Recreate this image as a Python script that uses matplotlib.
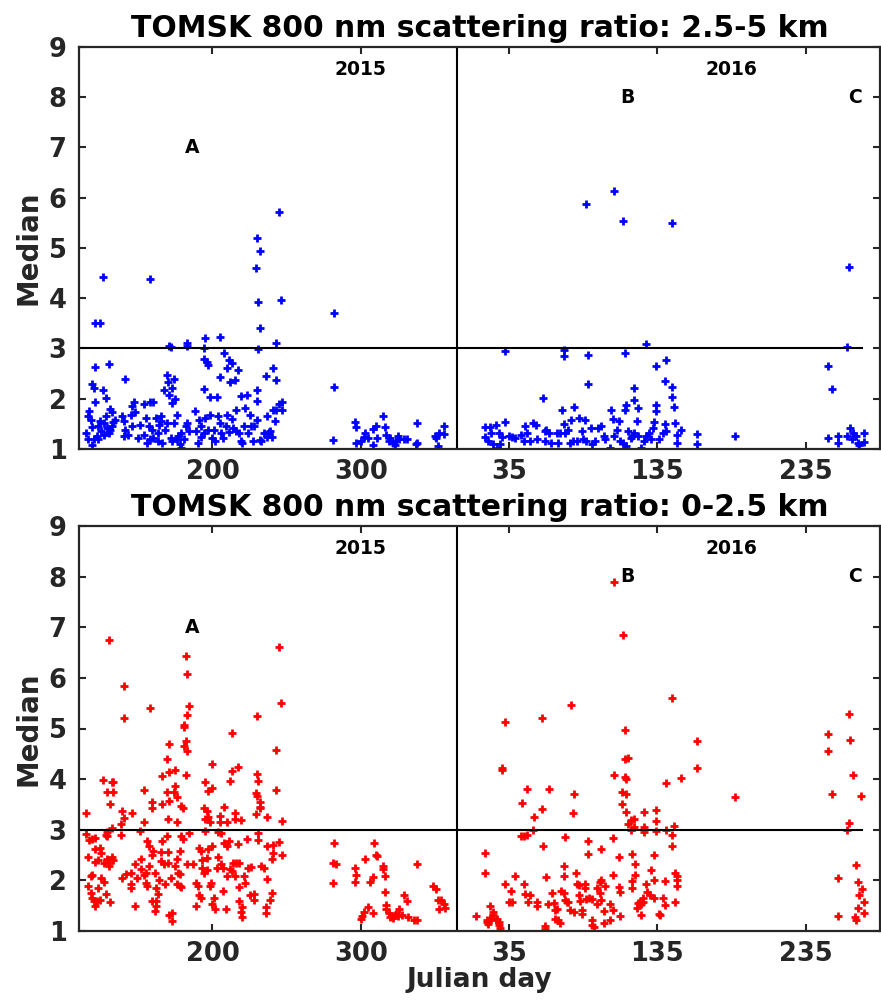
import matplotlib
matplotlib.use('Agg')
import matplotlib.pyplot as plt
import numpy as np

plt.rcParams['font.family'] = ['DejaVu Sans']
plt.rcParams['font.weight'] = 'bold'

# ---- 2.5-5 km, 2015 (day of year, median) ----
top15_day = [126, 121, 124, 158, 230, 232, 229, 245, 231, 246, 232, 243, 231, 282, 282, 171, 172, 183, 183,
             195, 194, 205, 208, 194, 196, 197, 211, 213, 210, 217, 205, 212, 215, 241, 236, 243, 121, 130,
             141, 119, 120, 126, 128, 121, 169, 170, 174, 167, 173, 171, 175, 173, 194, 198, 203, 219, 223,
             230, 230, 247, 245, 243, 247, 237, 147, 146, 154, 158, 160, 131, 132, 117, 116,
             115, 118, 119, 120, 123, 123, 125, 127, 128, 129, 130, 132, 133, 134, 116, 119, 122, 127, 131, 124,
             139, 140, 141, 143, 145, 146, 148, 150, 151, 140,
             154, 155, 157, 158, 159, 162, 163, 164, 165, 166, 168, 156, 160, 163, 165,
             169, 172, 173, 174, 176, 177, 178, 179, 181, 182, 183, 184, 179, 176,
             188, 189, 191, 192, 194, 195, 197, 198, 200, 201, 202, 190, 192,
             204, 205, 206, 207, 209, 210, 211, 213, 214, 216, 216, 218, 219, 220,
             221, 222, 224, 225, 226, 228, 230, 232, 233, 235, 237, 238, 239, 240, 241, 242, 227,
             281, 296, 297, 297, 300, 302, 303, 305, 308, 310, 308, 311, 315, 316, 317, 319, 320, 322, 323,
             324, 325, 326, 329, 331, 338, 337, 338, 351, 352, 353, 356, 356, 350]
top15_val = [4.42, 3.50, 3.51, 4.39, 5.20, 4.95, 4.60, 5.72, 3.93, 3.97, 3.40, 3.11, 2.99, 3.70, 2.24, 3.04, 3.03, 3.10, 3.04,
             3.20, 3.00, 3.22, 2.92, 2.80, 2.74, 2.68, 2.77, 2.72, 2.61, 2.58, 2.44, 2.33, 2.38, 2.61, 2.46, 2.38, 2.64, 2.69,
             2.40, 2.29, 2.21, 2.18, 2.01, 1.93, 2.47, 2.34, 2.39, 2.18, 2.22, 2.08, 1.99, 1.91, 2.20, 2.03, 2.03, 2.06, 2.07,
             2.18, 1.95, 1.94, 1.90, 1.78, 1.77, 1.65, 1.93, 1.85, 1.90, 1.93, 1.93, 1.80, 1.73, 1.75, 1.66,
             1.32, 1.58, 1.44, 1.20, 1.46, 1.19, 1.35, 1.52, 1.65, 1.42, 1.32, 1.45, 1.53, 1.58, 1.19, 1.07, 1.25, 1.28, 1.37, 1.56,
             1.65, 1.55, 1.37, 1.28, 1.68, 1.45, 1.73, 1.22, 1.48, 1.25,
             1.28, 1.62, 1.45, 1.19, 1.38, 1.62, 1.32, 1.48, 1.55, 1.12, 1.38, 1.12, 1.22, 1.15, 1.65,
             1.52, 1.22, 1.15, 1.52, 1.68, 1.25, 1.09, 1.32, 1.19, 1.45, 1.52, 1.35, 1.02, 1.19,
             1.75, 1.35, 1.58, 1.45, 1.32, 1.62, 1.38, 1.68, 1.22, 1.38, 1.15, 1.12, 1.23,
             1.65, 1.52, 1.32, 1.22, 1.45, 1.68, 1.33, 1.60, 1.42, 1.78, 1.35, 1.32, 1.15, 1.11,
             1.45, 1.81, 1.32, 1.68, 1.45, 1.45, 1.58, 1.17, 1.15, 1.32, 1.23, 1.33, 1.36, 1.23, 1.78, 1.55, 1.15,
             1.17, 1.53, 1.44, 1.11, 1.15, 1.24, 1.32, 1.22, 1.40, 1.45, 1.07, 1.22, 1.65, 1.44, 1.28, 1.15, 1.22, 1.12, 1.07,
             1.15, 1.25, 1.19, 1.20, 1.19, 1.52, 1.09, 1.11, 1.22, 1.05, 1.32, 1.45, 1.30, 1.26]

# ---- 2.5-5 km, 2016 ----
top16_day = [87, 106, 112, 145, 264, 263, 250, 253, 127, 32, 72, 72, 88, 113, 134, 141, 88, 140, 145, 119, 119,
             145, 146, 58, 71, 79, 104, 113, 114, 122, 134, 134,
             19, 22, 26, 19, 21, 23, 24, 27, 28, 29, 30, 32, 35, 37, 39, 43, 45, 46, 47, 49, 51, 53, 54, 59, 60,
             62, 59, 63, 67, 68, 69, 72, 73, 75, 77, 76, 78, 81, 82, 84, 85, 86, 87, 90, 91, 93, 95, 97, 99, 100,
             103, 105, 106, 108, 109, 110, 112, 114, 115, 117, 118, 119, 121, 122, 124, 126, 127, 129, 131, 132,
             133, 136, 139, 140, 141, 147, 148, 148, 151, 162, 162, 187, 250, 257, 257, 263, 265, 266, 267, 269,
             270, 271, 274, 274]
top16_val = [5.87, 6.13, 5.54, 5.49, 4.63, 3.03, 2.65, 2.19, 3.08, 2.95, 2.97, 2.85, 2.88, 2.92, 2.66, 2.77, 2.30, 2.35,
             2.23, 2.21, 1.97, 2.03, 1.83, 2.01, 1.78, 1.83, 1.78, 1.78, 1.88, 1.81, 1.87, 1.75,
             1.44, 1.44, 1.47, 1.23, 1.15, 1.32, 1.09, 1.02, 1.32, 1.09, 1.23, 1.53, 1.26, 1.24, 1.22, 1.28, 1.15,
             1.46, 1.32, 1.15, 1.52, 1.48, 1.20, 1.35, 1.38, 1.32, 1.15, 1.12, 1.32, 1.12, 1.32, 1.50, 1.32, 1.38,
             1.58, 1.12, 1.15, 1.15, 1.62, 1.35, 1.19, 1.57, 1.15, 1.42, 1.09, 1.15, 1.42, 1.46, 1.25, 1.19, 1.02,
             1.60, 1.25, 1.38, 1.55, 1.15, 1.12, 1.05, 1.35, 1.22, 1.25, 1.32, 1.55, 1.25, 1.02, 1.15, 1.25, 1.32,
             1.19, 1.42, 1.53, 1.19, 1.32, 1.50, 1.35, 1.52, 1.12, 1.28, 1.38, 1.30, 1.09, 1.25, 1.22, 1.25, 1.12,
             1.26, 1.42, 1.20, 1.32, 1.25, 1.12, 1.07, 1.32, 1.13]

# ---- 0-2.5 km, 2015 ----
bot15_day = [130, 245, 182, 183, 140, 158, 140, 184, 183, 181, 181, 246, 230, 213, 243, 182, 181, 183, 171, 169,
             166, 171, 175, 182, 200, 213, 217, 230, 231, 212, 195, 197, 200, 126, 132, 133, 129, 133, 154, 169,
             174, 175, 243, 229, 230, 232, 232, 131, 159, 159, 166, 171, 176, 179, 180, 115, 139, 140, 146, 138,
             154, 170, 176, 194, 196, 197, 195, 198, 208, 205, 205, 210, 215, 215, 219, 229, 232, 237, 247, 132,
             115, 117, 119, 121, 116, 121, 124, 125, 121, 123, 128, 129, 129, 129, 130, 132, 133, 130, 127,
             118, 119, 116, 118, 119, 120, 121, 122, 123, 124, 125, 127, 128, 131, 138,
             139, 142, 145, 145, 145, 148, 148, 149, 152, 151, 152, 154, 155, 155, 156, 156, 157, 157, 159, 159,
             160, 161, 162, 162, 163, 164, 161, 162, 165, 165, 166, 167, 168, 169, 170, 171, 173, 173, 170, 172,
             175, 176, 176, 177, 178, 178, 179, 180, 179, 178, 183, 184, 187,
             189, 189, 190, 191, 191, 192, 192, 193, 193, 194, 195, 196, 196, 197, 198, 199, 200, 200, 201, 202,
             203, 204, 204, 206, 206, 207, 207, 208, 209, 210, 210, 211, 212, 213, 214, 215, 216, 217, 218, 218,
             218, 219, 220, 220, 221, 222, 223, 224, 225, 226, 228, 228, 231, 231, 233, 235, 236, 236, 237, 237,
             239, 240, 240, 241, 241, 245, 247,
             282, 281, 283, 281, 296, 297, 296, 303, 305, 306, 308, 308, 309, 310, 311, 302, 301, 300, 315, 315,
             316, 316, 317, 317, 319, 320, 321, 322, 323, 324, 325, 326, 328, 329, 331, 332, 338, 336, 338, 349,
             351, 352, 353, 354, 356, 357]
bot15_val = [6.74, 6.61, 6.43, 6.07, 5.84, 5.40, 5.21, 5.44, 5.26, 5.06, 5.03, 5.51, 5.24, 4.91, 4.57, 4.76, 4.66, 4.55,
             4.70, 4.39, 4.06, 4.14, 4.18, 4.09, 4.29, 4.16, 4.23, 4.11, 3.96, 3.96, 3.94, 3.76, 3.83, 3.99, 3.95, 3.95,
             3.75, 3.75, 3.78, 3.75, 3.75, 3.87, 3.78, 3.72, 3.66, 3.55, 3.43, 3.51, 3.55, 3.43, 3.51, 3.57, 3.65, 3.47,
             3.43, 3.34, 3.38, 3.24, 3.34, 3.11, 3.16, 3.22, 3.16, 3.43, 3.38, 3.26, 3.22, 3.16, 3.45, 3.27, 3.16, 3.16,
             3.34, 3.22, 3.19, 3.32, 3.45, 3.26, 3.18, 3.03,
             2.91, 2.80, 2.82, 2.84, 2.47, 2.61, 2.64, 2.55, 2.36, 2.40, 2.89, 2.95, 2.88, 2.43, 2.28, 2.47, 2.40, 2.35, 2.35,
             2.09, 2.10, 1.89, 1.76, 1.66, 1.59, 1.49, 1.59, 1.84, 1.62, 2.05, 1.97, 1.74, 1.57, 2.89,
             2.05, 2.12, 2.14, 1.92, 1.84, 2.32, 1.49, 2.05, 2.43, 2.97, 2.22, 2.10, 1.95, 2.15, 1.89, 2.78, 2.68, 2.28,
             1.59, 2.51, 2.59, 2.15, 1.84, 1.59, 1.74, 2.01, 1.39, 1.49, 2.56, 2.38, 2.78, 2.32, 1.92, 2.88, 2.35, 1.31,
             1.36, 1.20, 2.56, 2.05, 2.28, 2.43, 1.92, 2.15, 2.59, 2.12, 2.88, 2.81, 1.86, 1.89, 2.32, 2.93, 2.32,
             1.49, 1.95, 1.89, 1.72, 2.64, 1.66, 2.58, 2.41, 2.25, 2.15, 2.97, 2.45, 2.20, 2.61, 1.89, 1.95, 1.53, 2.68,
             1.66, 1.43, 2.25, 2.46, 2.96, 2.94, 2.32, 2.25, 1.79, 2.73, 1.43, 2.09, 2.68, 2.78, 2.22, 2.18, 2.35, 2.09,
             2.35, 2.71, 1.86, 1.59, 2.35, 1.38, 1.48, 1.28, 2.09, 1.95, 2.82, 2.25, 1.72, 2.27, 1.74, 1.61, 2.94, 2.80,
             2.28, 2.25, 1.48, 1.36, 2.03, 2.68, 1.61, 1.76, 2.43, 2.55, 2.69, 2.76, 2.50,
             2.73, 2.35, 2.32, 1.94, 2.24, 2.10, 1.97, 2.43, 1.48, 1.97, 2.07, 1.36, 2.73, 2.51, 2.49, 1.38, 1.30, 1.23,
             2.28, 2.22, 2.09, 1.77, 1.51, 1.44, 1.36, 1.28, 1.30, 1.26, 1.31, 1.33, 1.30, 1.44, 1.31, 1.72, 1.59, 1.28,
             2.32, 1.22, 1.21, 1.89, 1.82, 1.61, 1.43, 1.62, 1.53, 1.46]

# ---- 0-2.5 km, 2016 ----
bot16_day = [106, 112, 145, 77, 32, 57, 113, 264, 250, 265, 250, 162, 162, 30, 30, 113, 115, 106, 113, 114, 141,
             151, 187, 267, 272, 253, 47, 62, 79, 78, 44, 57, 52, 111, 114, 111, 114, 117, 119, 115, 126, 134, 134,
             126, 126, 119, 117, 134, 141, 146, 145, 145, 264, 263, 51, 43, 45, 47, 58, 73, 88, 105, 19, 88, 97,
             109, 118, 133, 19, 120, 269, 257,
             32, 36, 35, 37, 39, 45, 46, 49, 48, 54, 54, 60, 61, 64, 65, 66, 67, 66, 68, 69, 70, 72, 72, 72, 73,
             74, 75, 76, 79, 80, 81, 82, 82, 83, 84, 84, 86, 86, 87, 89, 91, 91, 91, 92, 94, 94, 96, 96, 97, 97,
             99, 100, 99, 103, 103, 105, 105, 109, 110, 110, 118, 118, 120, 121, 122, 123, 124, 125, 124, 125,
             127, 128, 130, 131, 133, 133, 136, 137, 139, 140, 140, 147, 148, 148, 148, 147,
             13, 20, 21, 22, 23, 24, 24, 26, 27, 28, 28, 29, 20, 22, 59, 59, 257, 268, 269, 270, 270, 271, 273,
             274, 274]
bot16_val = [7.89, 6.85, 5.60, 5.47, 5.13, 5.20, 4.97, 5.28, 4.89, 4.78, 4.55, 4.75, 4.22, 4.22, 4.19, 4.40, 4.42,
             4.08, 4.04, 4.01, 3.92, 4.03, 3.64, 4.09, 3.66, 3.71, 3.81, 3.80, 3.70, 3.34, 3.53, 3.41, 3.25, 3.74,
             3.70, 3.50, 3.36, 3.20, 3.22, 3.12, 3.36, 3.39, 3.17, 3.05, 2.95, 3.05, 3.00, 2.97, 3.00, 3.07, 2.90,
             2.68, 3.14, 2.99, 3.00, 2.88, 2.88, 2.90, 2.68, 2.86, 2.77, 2.84, 2.54, 2.52, 2.61, 2.46, 2.53, 2.51,
             2.15, 2.32, 2.30, 2.05,
             1.93, 1.80, 1.57, 1.57, 2.09, 1.93, 1.74, 1.72, 1.57, 1.57, 1.49, 2.07, 1.53, 1.76, 1.56, 1.41, 1.44,
             1.24, 1.21, 1.16, 1.80, 1.75, 2.09, 2.29, 1.61, 1.57, 1.57, 1.42, 1.38, 2.14, 1.93, 1.90, 1.72, 1.59,
             1.42, 1.33, 1.93, 1.84, 1.64, 1.66, 1.64, 1.21, 1.11, 1.08, 1.54, 1.84, 1.75, 1.97, 2.01, 1.62, 1.39,
             1.88, 1.16, 1.22, 1.54, 2.10, 1.42, 1.86, 1.77, 1.29, 1.99, 1.84, 2.10, 1.46, 1.55, 1.57, 1.54, 1.66,
             1.31, 1.57, 1.93, 1.77, 1.72, 2.20, 2.01, 1.66, 1.33, 1.31, 1.66, 1.51, 1.99, 2.14, 2.08, 2.00, 1.89,
             1.58,
             1.29, 1.18, 1.14, 1.49, 1.24, 1.38, 1.31, 1.21, 1.24, 1.18, 1.11, 1.05, 1.21, 1.26, 1.09, 1.03, 1.30,
             1.28, 1.21, 1.46, 1.97, 1.72, 1.83, 1.57, 1.36]

panels = [
    ('TOMSK 800 nm scattering ratio: 2.5-5 km', top15_day, top15_val, top16_day, top16_val, 'blue'),
    ('TOMSK 800 nm scattering ratio: 0-2.5 km', bot15_day, bot15_val, bot16_day, bot16_val, 'red'),
]
tick_pos = [200, 300, 400, 500, 600]
tick_lab = ['200', '300', '35', '135', '235']
year_len = 365
xmin, xmax = 110, 650
spine_col = '#262626'

fig = plt.figure(figsize=(8.81, 10), dpi=100)
ax_top = fig.add_axes([0.0897, 0.551, 0.909, 0.402])
ax_bot = fig.add_axes([0.0897, 0.069, 0.909, 0.405])

for ax, (title, d15, v15, d16, v16, col) in zip([ax_top, ax_bot], panels):
    x = np.concatenate([np.array(d15), year_len + np.array(d16)])
    y = np.concatenate([v15, v16])
    ax.plot(x, y, linestyle='none', marker='+', ms=5.5, mew=2, color=col)
    ax.plot([xmin, 638], [3, 3], color='black', lw=1.5)
    ax.axvline(year_len, color='black', lw=1.5)
    ax.set_xlim(xmin, xmax)
    ax.set_ylim(1, 9)
    ax.set_xticks(tick_pos)
    ax.set_xticklabels(tick_lab)
    ax.set_yticks(range(1, 10))
    ax.tick_params(direction='in', top=True, right=True, length=5, width=1.5,
                   labelsize=18.5, colors=spine_col)
    ax.tick_params(axis='x', pad=7)
    ax.tick_params(axis='y', pad=9)
    for lab in ax.get_xticklabels() + ax.get_yticklabels():
        lab.set_fontweight('bold')
    for s in ax.spines.values():
        s.set_color(spine_col)
        s.set_linewidth(1.6)
    ax.set_title(title, fontsize=21.5, fontweight='bold', pad=7)
    ax.set_ylabel('Median', fontsize=20, fontweight='bold', color=spine_col, labelpad=4)
    ax.text(300, 8.55, '2015', fontsize=13.5, fontweight='bold', ha='center', va='center')
    ax.text(550, 8.55, '2016', fontsize=13.5, fontweight='bold', ha='center', va='center')
    ax.text(186, 7.0, 'A', fontsize=13.5, fontweight='bold', ha='center', va='center')
    ax.text(480, 8.0, 'B', fontsize=13.5, fontweight='bold', ha='center', va='center')
    ax.text(633, 8.0, 'C', fontsize=13.5, fontweight='bold', ha='center', va='center')

ax_bot.set_xlabel('Julian day', fontsize=19, fontweight='bold', color=spine_col, labelpad=0)

fig.savefig('out.png', dpi=100)
